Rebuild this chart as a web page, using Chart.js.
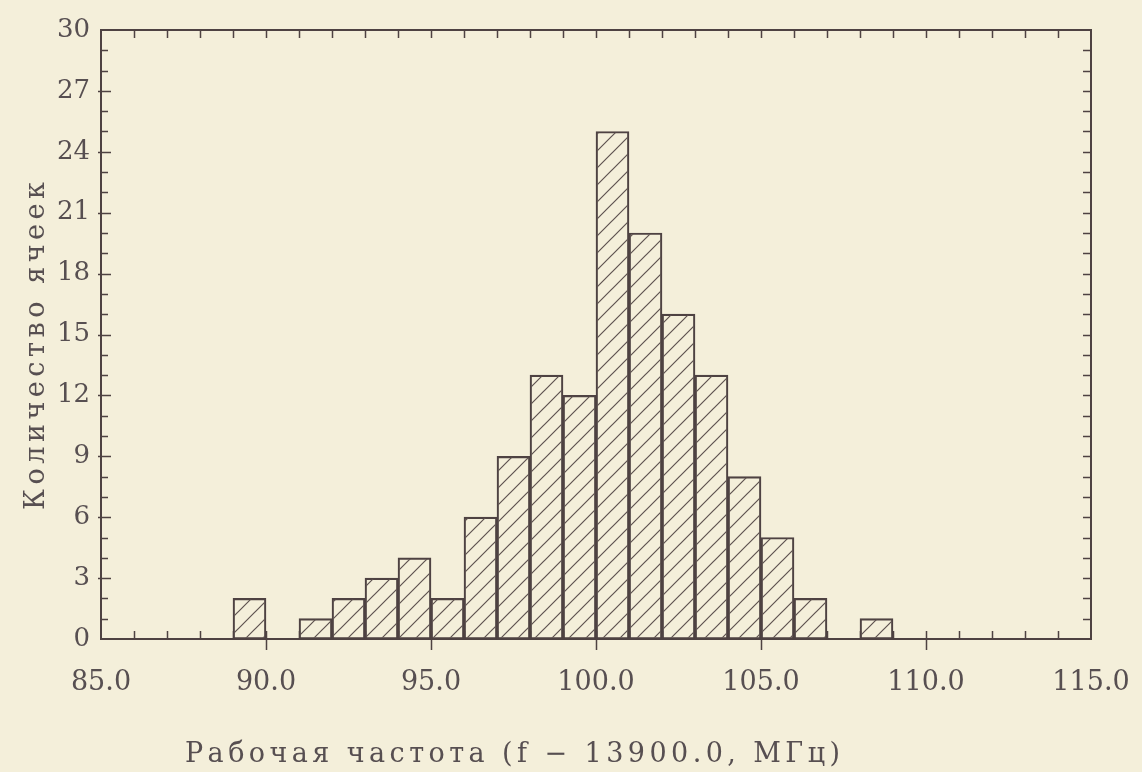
<!DOCTYPE html>
<html>
<head>
<meta charset="utf-8">
<script src="https://cdn.jsdelivr.net/npm/chart.js@4.4.1/dist/chart.umd.min.js"></script>
<style>
html,body{margin:0;padding:0;background:#f3eed9;}
#wrap{width:1142px;height:772px;position:relative;}
canvas{display:block;}
</style>
</head>
<body>
<div id="wrap"><canvas id="c" width="1142" height="772"></canvas></div>
<script>
// ---- data ----
const binCenters = [89.5, 90.5, 91.5, 92.5, 93.5, 94.5, 95.5, 96.5, 97.5, 98.5, 99.5, 100.5, 101.5, 102.5, 103.5, 104.5, 105.5, 106.5, 107.5, 108.5];
const counts     = [2, 0, 1, 2, 3, 4, 2, 6, 9, 13, 12, 25, 20, 16, 13, 8, 5, 2, 0, 1];
const xTickValues = [85, 90, 95, 100, 105, 110, 115];
const yTickValues = [0, 3, 6, 9, 12, 15, 18, 21, 24, 27, 30];
const xTitle = 'Рабочая частота (f − 13900.0, МГц)';
const yTitle = 'Количество ячеек';

// ---- style ----
const BG = '#f4efda';
const INK = '#4e4242';
const TEXT = '#574f51';
const FONT = '"DejaVu Serif", "Liberation Serif", serif';

function makeHatch() {
  const s = 17;
  const c = document.createElement('canvas');
  c.width = s; c.height = s;
  const g = c.getContext('2d');
  g.strokeStyle = '#5e5250';
  g.lineWidth = 1.2;
  g.beginPath();
  g.moveTo(0, s); g.lineTo(s, 0);
  g.moveTo(-2, 2); g.lineTo(2, -2);
  g.moveTo(s - 2, s + 2); g.lineTo(s + 2, s - 2);
  g.stroke();
  return c;
}

const ctx0 = document.getElementById('c').getContext('2d');
const hatchPattern = ctx0.createPattern(makeHatch(), 'repeat');

function drawSpaced(ctx, text, x, y, targetWidth) {
  const chars = Array.from(text);
  const widths = chars.map(ch => ctx.measureText(ch).width);
  const total = widths.reduce((a, b) => a + b, 0);
  const gap = chars.length > 1 ? (targetWidth - total) / (chars.length - 1) : 0;
  let cx = x;
  chars.forEach((ch, i) => {
    ctx.fillText(ch, cx, y);
    cx += widths[i] + gap;
  });
}

const framePlugin = {
  id: 'frame',
  beforeDraw(chart) {
    const ctx = chart.ctx;
    ctx.save();
    ctx.fillStyle = BG;
    ctx.fillRect(0, 0, chart.width, chart.height);
    ctx.restore();
  },
  afterDraw(chart) {
    const ctx = chart.ctx;
    const a = chart.chartArea;
    const xs = chart.scales.x, ys = chart.scales.y;
    ctx.save();
    ctx.strokeStyle = INK;
    ctx.lineWidth = 2;
    ctx.strokeRect(a.left, a.top, a.right - a.left, a.bottom - a.top);
    ctx.lineWidth = 1.5;
    ctx.beginPath();
    // x ticks (bottom and top)
    for (let v = xs.min; v <= xs.max; v++) {
      const px = Math.round(xs.getPixelForValue(v)) + 0.5;
      const major = xTickValues.includes(v);
      if (v !== xs.min && v !== xs.max) {
        ctx.moveTo(px, a.bottom - 8);
        ctx.lineTo(px, a.bottom + (major ? 11 : 0));
        ctx.moveTo(px, a.top);
        ctx.lineTo(px, a.top + 8);
      }
    }
    // y ticks (left and right)
    for (let v = ys.min; v <= ys.max; v++) {
      const py = Math.round(ys.getPixelForValue(v)) + 0.5;
      const major = yTickValues.includes(v);
      if (v !== ys.min && v !== ys.max) {
        ctx.moveTo(a.left - (major ? 3 : 0), py);
        ctx.lineTo(a.left + (major ? 10 : 7), py);
        ctx.moveTo(a.right - 8, py);
        ctx.lineTo(a.right, py);
      }
    }
    ctx.stroke();

    // axis titles
    ctx.fillStyle = TEXT;
    ctx.font = '27px ' + FONT;
    ctx.textBaseline = 'alphabetic';
    ctx.textAlign = 'left';
    drawSpaced(ctx, xTitle, 185, 762, 655);
    ctx.save();
    ctx.translate(44, 510);
    ctx.rotate(-Math.PI / 2);
    drawSpaced(ctx, yTitle, 0, 0, 328);
    ctx.restore();
    ctx.restore();
  }
};

new Chart(document.getElementById('c'), {
  type: 'bar',
  data: {
    datasets: [{
      data: binCenters.map((x, i) => ({ x: x, y: counts[i] })),
      backgroundColor: hatchPattern,
      borderColor: INK,
      borderWidth: 1.5,
      borderSkipped: false,
      barPercentage: 1.0,
      categoryPercentage: 1.0
    }]
  },
  options: {
    responsive: false,
    animation: false,
    devicePixelRatio: 1,
    layout: { padding: { left: 0, right: 51, top: 30, bottom: 0 } },
    plugins: { legend: { display: false }, tooltip: { enabled: false } },
    scales: {
      x: {
        type: 'linear',
        offset: false,
        min: 85, max: 115,
        afterFit(scale) { scale.height = 133; scale.paddingLeft = 0; scale.paddingRight = 0; },
        afterBuildTicks(scale) { scale.ticks = xTickValues.map(v => ({ value: v })); },
        grid: { display: false, drawTicks: false, offset: false },
        border: { display: false },
        ticks: {
          padding: 28,
          color: TEXT,
          font: { family: FONT, size: 27 },
          callback: v => Number(v).toFixed(1),
          maxRotation: 0, autoSkip: false
        }
      },
      y: {
        type: 'linear',
        min: 0, max: 30,
        afterFit(scale) { scale.width = 101; scale.paddingTop = 0; scale.paddingBottom = 0; },
        afterBuildTicks(scale) { scale.ticks = yTickValues.map(v => ({ value: v })); },
        grid: { display: false, drawTicks: false },
        border: { display: false },
        ticks: {
          padding: 11,
          color: TEXT,
          font: { family: FONT, size: 26 },
          autoSkip: false
        }
      }
    }
  },
  plugins: [framePlugin]
});
</script>
</body>
</html>
